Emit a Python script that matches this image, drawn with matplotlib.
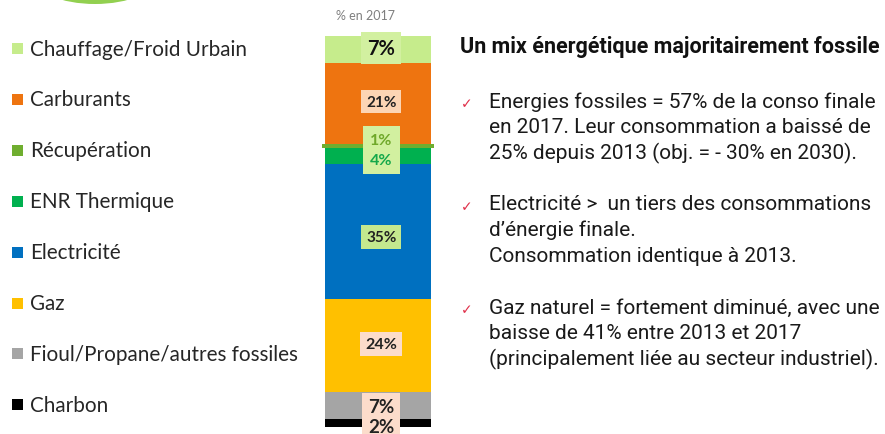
import matplotlib.pyplot as plt
from matplotlib.patches import Rectangle, Ellipse

# data, top of the legend / top of the stack first
categories = [
    "Chauffage/Froid Urbain",
    "Carburants",
    "Récupération",
    "ENR Thermique",
    "Electricité",
    "Gaz",
    "Fioul/Propane/autres fossiles",
    "Charbon",
]
shares = [7, 21, 1, 4, 35, 24, 7, 2]
colors = ["#c6ec8c", "#ee7410", "#6fae2f", "#00b04f", "#0070c0", "#ffc000", "#a5a5a5", "#000000"]

# label styling per segment: box colour, text colour, font size
label_box = ["#d2f0a0", "#fcd5b4", "#d2f0a0", "#d2f0a0", "#c4e88e", "#fcdccb", "#fcdccb", "#fcdccb"]
label_txt = ["#111111", "#222222", "#6fa82a", "#14a84a", "#222222", "#222222", "#222222", "#222222"]
label_fs = [14.5, 11, 11.5, 11.5, 11, 11.5, 13.5, 13.5]

title = "Un mix énergétique majoritairement fossile"
bullets = [
    ["Energies fossiles = 57% de la conso finale",
     "en 2017. Leur consommation a baissé de",
     "25% depuis 2013 (obj. = - 30% en 2030)."],
    ["Electricité >  un tiers des consommations",
     "d\u2019énergie finale.",
     "Consommation identique à 2013."],
    ["Gaz naturel = fortement diminué, avec une",
     "baisse de 41% entre 2013 et 2017",
     "(principalement liée au secteur industriel)."],
]

W, H = 885, 435
fig = plt.figure(figsize=(W / 100, H / 100), dpi=100)
fig.patch.set_facecolor("white")

# overlay in pixel coordinates for legend and text
ov = fig.add_axes([0, 0, 1, 1])
ov.set_xlim(0, W)
ov.set_ylim(H, 0)
ov.axis("off")

# decorative green arc at top
ov.add_patch(Ellipse((95, -22), 124, 54, color="#92d050", lw=0))

# stacked bar
bar_top, bar_bot = 37, 428
ax = fig.add_axes([325 / W, (H - bar_bot) / H, 106 / W, (bar_bot - bar_top) / H])
ax.set_xlim(-0.5, 0.5)
ax.set_ylim(0, sum(shares))
ax.axis("off")

bottom = 0
mids = {}
for cat, val, col in zip(categories[::-1], shares[::-1], colors[::-1]):
    # the thin recovery slice sticks out a bit on both sides, like the original
    w = 1.05 if cat == "Récupération" else 1.0
    ax.bar(0, val, width=w, bottom=bottom, color=col, lw=0, clip_on=False)
    mids[cat] = bottom + val / 2
    bottom += val

# labels in segments (small nudges so stacked small labels don't collide)
offsets = {"Chauffage/Froid Urbain": 0.5, "Carburants": 0.5,
           "Récupération": 1.7, "ENR Thermique": -1.0,
           "Electricité": -1.4, "Gaz": 0.4,
           "Fioul/Propane/autres fossiles": -0.3, "Charbon": -1.0}
pads = {"Récupération": 0.45, "ENR Thermique": 0.45,
        "Fioul/Propane/autres fossiles": 0.3, "Charbon": 0.3}
for i, cat in enumerate(categories):
    y = mids[cat] + offsets.get(cat, 0)
    ax.text(0.03, y, f"{shares[i]}%", ha="center", va="center",
            fontsize=label_fs[i], fontweight="bold", color=label_txt[i],
            family=["Lato", "DejaVu Sans"], clip_on=False,
            bbox=dict(boxstyle=f"square,pad={pads.get(cat, 0.3)}",
                      fc=label_box[i], ec="none"))

ov.text(366, 16, "% en 2017", ha="center", va="center", fontsize=9,
        color="#7f7f7f", family=["Lato", "DejaVu Sans"])

# legend
for i, (cat, col) in enumerate(zip(categories, colors)):
    y = 49.5 + i * 50.9
    ov.add_patch(Rectangle((12, y - 5.5), 11, 11, color=col, lw=0))
    ov.text(30, y, cat, ha="left", va="center", fontsize=14.9,
            color="#262626", family=["Lato", "DejaVu Sans"])

# right-hand commentary
ov.text(460, 47, title, ha="left", va="center", fontsize=15.5,
        fontweight="bold", color="#111111", family=["Roboto", "DejaVu Sans"])
for b, lines in enumerate(bullets):
    y0 = 102 + b * 103
    ov.text(461, y0 + 2, "\u2713", ha="left", va="center", fontsize=10,
            color="#e0304a", family=["DejaVu Sans"])
    for j, line in enumerate(lines):
        ov.text(489, y0 + j * 25.5, line, ha="left", va="center",
                fontsize=15, color="#1a1a1a", family=["Roboto", "DejaVu Sans"])

fig.savefig("out.png", dpi=100)
